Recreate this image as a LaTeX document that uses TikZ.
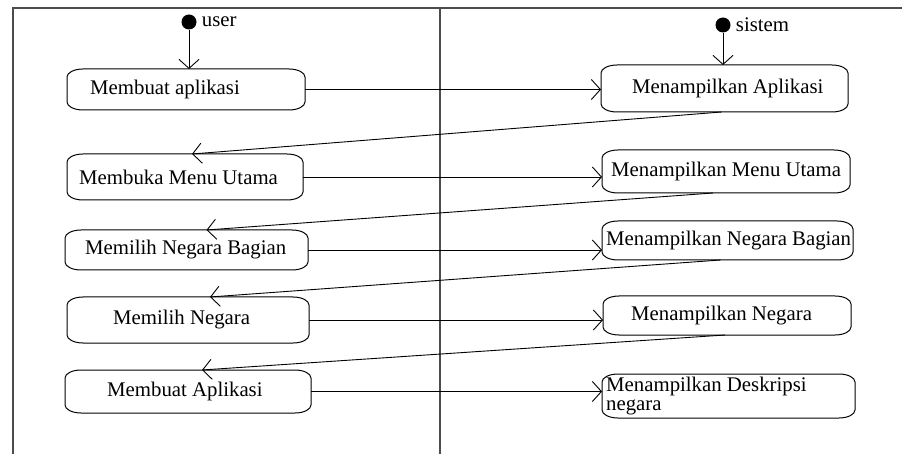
\documentclass[tikz,border=0pt]{standalone}
\usepackage{fontspec}
\setmainfont{Liberation Serif}
\usetikzlibrary{arrows.meta}

\tikzset{
  stbox/.style={draw=none, inner sep=0pt, outer sep=0pt},
  lbl/.style={inner sep=0pt, font=\fontsize{20.8}{22}\selectfont},
  initdot/.style={circle, fill=black, inner sep=0pt, minimum size=15pt},
  flow/.style={line width=0.9pt, -{Straight Barb[length=9pt,width=20pt]}},
  frame/.style={line width=1.4pt, draw=black!70},
  outline/.style={line width=1pt},
}

% state box with its text starting a given distance from the left side
% #1 name, #2 centre, #3 width, #4 height, #5 text indent, #6 text
\newcommand{\stnode}[6]{%
  \node[stbox, minimum width=#3pt, minimum height=#4pt,
        label={[lbl, name=#1t, anchor=west, xshift=#5pt, align=left]west:#6}]
        (#1) at #2 {};}

\begin{document}
\begin{tikzpicture}[x=1pt, y=-1pt]
  \useasboundingbox (0,0) rectangle (902,454);

  % swimlane frame
  \draw[frame] (13,454) -- (13,8) -- (902,8);
  \draw[frame] (440,8) -- (440,454);

  % user lane
  \node[initdot, label={[lbl, name=ut, label distance=5pt]east:user}] (u0) at (189,22) {};
  \stnode{a1}{(186,89.5)}{238}{41}{23}{Membuat aplikasi}
  \stnode{a2}{(185,177)}{236}{46}{12}{Membuka Menu Utama}
  \stnode{a3}{(186.5,250)}{243}{40}{20}{Memilih Negara Bagian}
  \stnode{a4}{(188,320)}{242}{46}{46}{Memilih Negara}
  \stnode{a5}{(188,391.5)}{246}{43}{42}{Membuat Aplikasi}

  % sistem lane
  \node[initdot, label={[lbl, name=st, label distance=5pt]east:sistem}] (s0) at (723,25) {};
  \stnode{b1}{(724.5,88.5)}{247}{47}{31}{Menampilkan Aplikasi}
  \stnode{b2}{(726,171.5)}{248}{43}{9}{Menampilkan Menu Utama}
  \stnode{b3}{(727.5,240.5)}{251}{39}{4}{Menampilkan Negara Bagian}
  \stnode{b4}{(727,315.5)}{248}{39}{28}{Menampilkan Negara}
  \stnode{b5}{(728.5,396)}{253}{44}{4}{Menampilkan Deskripsi\\[-3pt]negara}

  % rounded outlines of the states
  \foreach \n in {a1,a2,a3,a4,a5,b1,b2,b3,b4,b5} {
    \draw[outline] ([yshift=-8pt]\n.north west)
      arc[start angle=180, end angle=90, x radius=16pt, y radius=8pt]
      -- ([xshift=-16pt]\n.north east)
      arc[start angle=90, end angle=0, x radius=16pt, y radius=8pt]
      -- ([yshift=8pt]\n.south east)
      arc[start angle=0, end angle=-90, x radius=16pt, y radius=8pt]
      -- ([xshift=16pt]\n.south west)
      arc[start angle=-90, end angle=-180, x radius=16pt, y radius=8pt]
      -- cycle;
  }

  % start transitions
  \draw[flow] (u0) -- (u0 |- a1.north);
  \draw[flow] (s0) -- (s0 |- b1.north);

  % user -> sistem
  \foreach \i in {1,...,5}
    \draw[flow] (a\i.east) -- (b\i.west |- a\i.east);

  % sistem -> next user step
  \draw[flow] ([xshift=-3]b1.south) -- ([xshift=7]a2.north);
  \draw[flow] ([xshift=-13]b2.south) -- ([xshift=20]a3.north);
  \draw[flow] ([xshift=-7]b3.south) -- ([xshift=22]a4.north);
  \draw[flow] ([xshift=-2]b4.south) -- ([xshift=14]a5.north);
\end{tikzpicture}
\end{document}
